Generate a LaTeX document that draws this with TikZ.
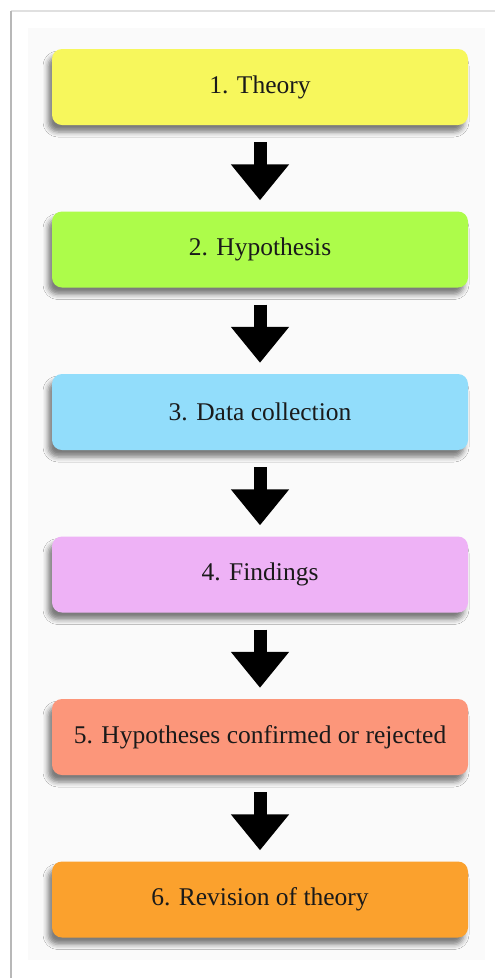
\documentclass[tikz,border=0pt]{standalone}
\usepackage{fontspec}
\setmainfont{Liberation Serif}
\usetikzlibrary{arrows.meta,shadows.blur}

\definecolor{cTheory}{HTML}{F7F75C}
\definecolor{cHyp}{HTML}{ADFC4A}
\definecolor{cData}{HTML}{92DDFB}
\definecolor{cFind}{HTML}{EEB2F6}
\definecolor{cConf}{HTML}{FC967A}
\definecolor{cRev}{HTML}{FBA12D}
\definecolor{panelbg}{HTML}{FAFAFA}
\definecolor{txt}{HTML}{1A1A1A}

\tikzset{
  x=1pt, y=-1pt,
  stepbox/.style={
    rounded corners=10pt, minimum width=416pt, minimum height=76pt,
    inner sep=0pt, text=txt,
    font=\fontsize{25.5}{30}\selectfont,
    blur shadow={shadow xshift=-4pt, shadow yshift=-7pt,
                 shadow blur radius=5pt, shadow opacity=50}
  },
  flow/.style={line width=13pt, black,
    -{Triangle[width=56pt,length=36pt]}}
}

\begin{document}
\begin{tikzpicture}
  % canvas and frame
  \fill[white] (0,0) rectangle (495,978);
  \useasboundingbox (0,0) rectangle (495,978);
  \fill[panelbg] (28,28) rectangle (485,960);
  \draw[line width=1.2pt, black!12] (11,11) -- (495,11);
  \draw[line width=1.5pt, black!28] (11,11) -- (11,978);

  % process steps
  \node[stepbox, fill=cTheory] (s1) at (260,87)    {1. Theory};
  \node[stepbox, fill=cHyp]    (s2) at (260,249.5) {2. Hypothesis};
  \node[stepbox, fill=cData]   (s3) at (260,412)   {3. Data collection};
  \node[stepbox, fill=cFind]   (s4) at (260,574.5) {4. Findings};
  \node[stepbox, fill=cConf]   (s5) at (260,737)   {5. Hypotheses confirmed or rejected};
  \node[stepbox, fill=cRev]    (s6) at (260,899.5) {6. Revision of theory};

  % block arrows between steps
  \foreach \a/\b in {s1/s2, s2/s3, s3/s4, s4/s5, s5/s6}
    \draw[flow] ([yshift=-17pt]\a.south) -- ([yshift=11pt]\b.north);
\end{tikzpicture}
\end{document}
